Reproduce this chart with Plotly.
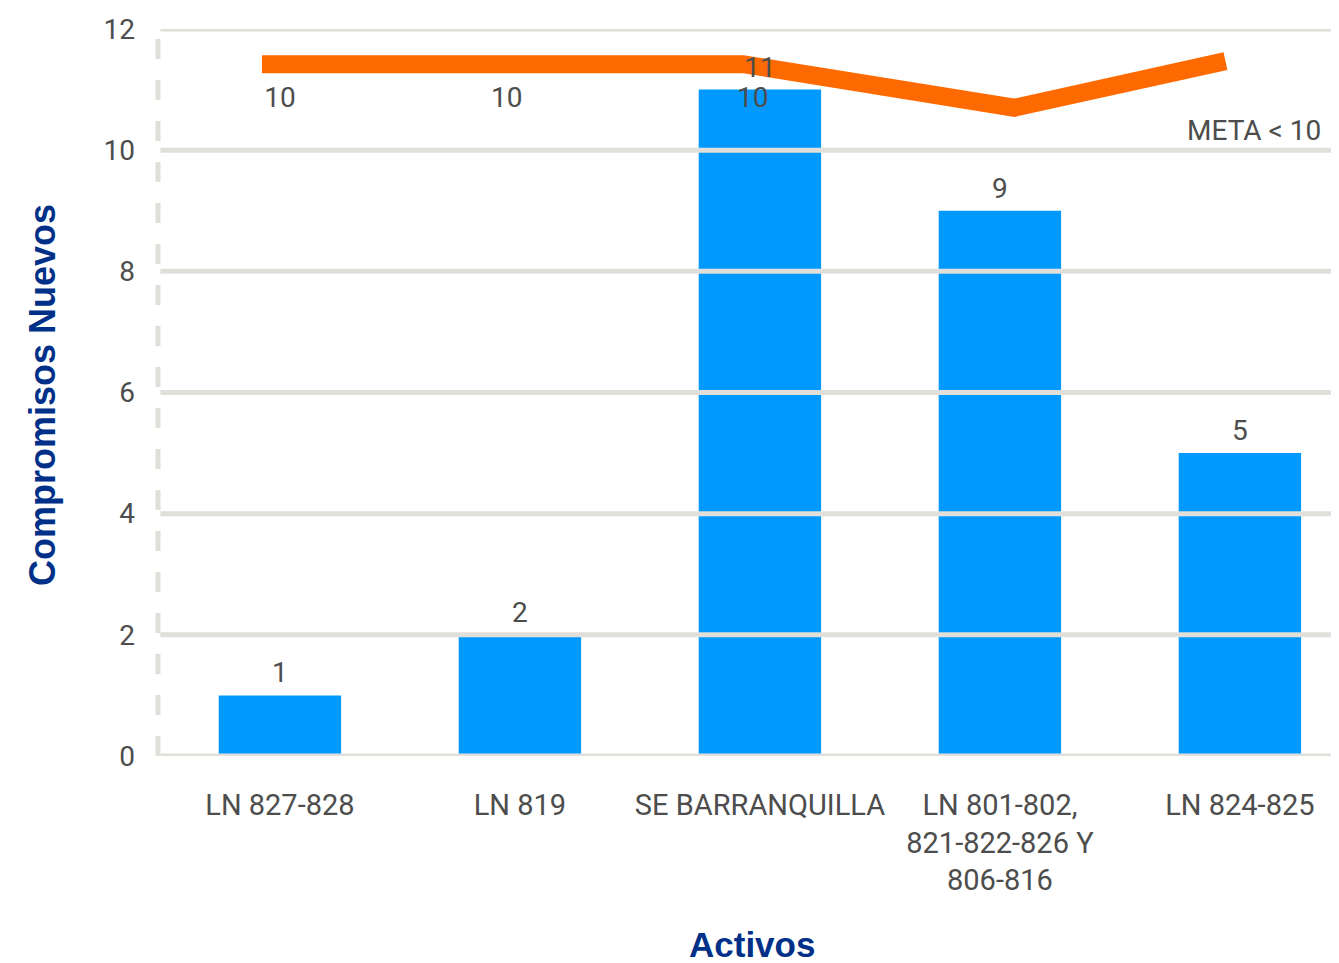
import plotly.graph_objects as go

# categories and values
activos = ['LN 827-828', 'LN 819', 'SE BARRANQUILLA',
           'LN 801-802,<br>821-822-826 Y<br>806-816', 'LN 824-825']
compromisos = [1, 2, 11, 9, 5]

# meta line (drawn a bit above the bars, labelled 10)
meta_x = [-0.075, 0.94, 1.93, 3.06, 3.94]
meta_y = [11.42, 11.42, 11.42, 10.7, 11.47]
meta_label_x = [0.0, 0.945, 1.97]
meta_label_y = [11.42, 11.42, 11.42]
meta_text = ['10', '10', '10']

y_ticks = [0, 2, 4, 6, 8, 10, 12]

font_txt = 'Roboto, Liberation Sans, Arial, sans-serif'
font_tit = 'Liberation Sans, Arial, sans-serif'
gris = '#4d4d4d'
azul = '#0099ff'
naranja = '#ff6a00'
grid = '#e0dfda'
titulo = '#003087'

x_pos = list(range(len(activos)))

fig = go.Figure()

# bars
fig.add_trace(go.Bar(x=x_pos, y=compromisos, width=0.51,
                     marker=dict(color=azul, line=dict(width=0)),
                     hovertemplate='%{y}<extra></extra>'))

# meta line
fig.add_trace(go.Scatter(x=meta_x, y=meta_y, mode='lines',
                         line=dict(color=naranja, width=18),
                         hoverinfo='skip'))

# labels of the meta line
fig.add_trace(go.Scatter(x=meta_label_x, y=meta_label_y, mode='markers+text',
                         marker=dict(size=34, color='rgba(0,0,0,0)'),
                         text=meta_text, textposition='bottom center',
                         textfont=dict(size=28, color=gris, family=font_txt),
                         cliponaxis=False, hoverinfo='skip'))

# bar value labels, on top of everything (the 11 sits over the line)
fig.add_trace(go.Scatter(x=x_pos, y=compromisos, mode='markers+text',
                         marker=dict(size=8, color='rgba(0,0,0,0)'),
                         text=compromisos, textposition='top center',
                         textfont=dict(size=28, color=gris, family=font_txt),
                         cliponaxis=False, hoverinfo='skip'))

# gridlines drawn over the bars, like the original
for t in y_ticks:
    fig.add_shape(type='line', xref='paper', yref='y', x0=0.002, x1=1, y0=t, y1=t,
                  line=dict(color=grid, width=5), layer='above')

# dashed vertical axis
fig.add_shape(type='line', xref='paper', yref='paper', x0=0, x1=0, y0=0, y1=1,
              line=dict(color=grid, width=5, dash='20px,21px'), layer='above')

fig.add_annotation(text='META < 10', xref='paper', yref='y', x=0.9865, y=10.33,
                   xanchor='right', yanchor='middle', showarrow=False,
                   font=dict(size=28, color=gris, family=font_txt))

# axis titles
fig.add_annotation(text='<b>Compromisos Nuevos</b>', xref='paper', yref='paper',
                   x=-(158 - 42) / 1181, y=(756 - 395) / 727, textangle=-90,
                   showarrow=False, xanchor='center', yanchor='middle',
                   font=dict(size=36, color=titulo, family=font_tit))
fig.add_annotation(text='<b>Activos</b>', xref='paper', yref='paper',
                   x=(752 - 158) / 1181, y=-(944 - 756) / 727, showarrow=False,
                   xanchor='center', yanchor='middle',
                   font=dict(size=35, color=titulo, family=font_tit))

# the page adds an 8px body margin, so the figure is 8px smaller
fig.update_layout(width=1331, height=955,
                  margin=dict(l=150, r=0, t=21, b=207),
                  paper_bgcolor='white', plot_bgcolor='white',
                  showlegend=False,
                  xaxis=dict(range=[-0.508, 4.413], tickmode='array',
                             tickvals=x_pos, ticktext=activos,
                             showgrid=False, zeroline=False, showline=False,
                             ticks='', ticklabelstandoff=29,
                             tickfont=dict(size=29, color=gris, family=font_txt)),
                  yaxis=dict(range=[0, 12], tickvals=y_ticks, showgrid=False,
                             zeroline=False, showline=False, ticks='',
                             ticklabelstandoff=22,
                             tickfont=dict(size=28, color=gris, family=font_txt)))

fig.write_html('out.html')
